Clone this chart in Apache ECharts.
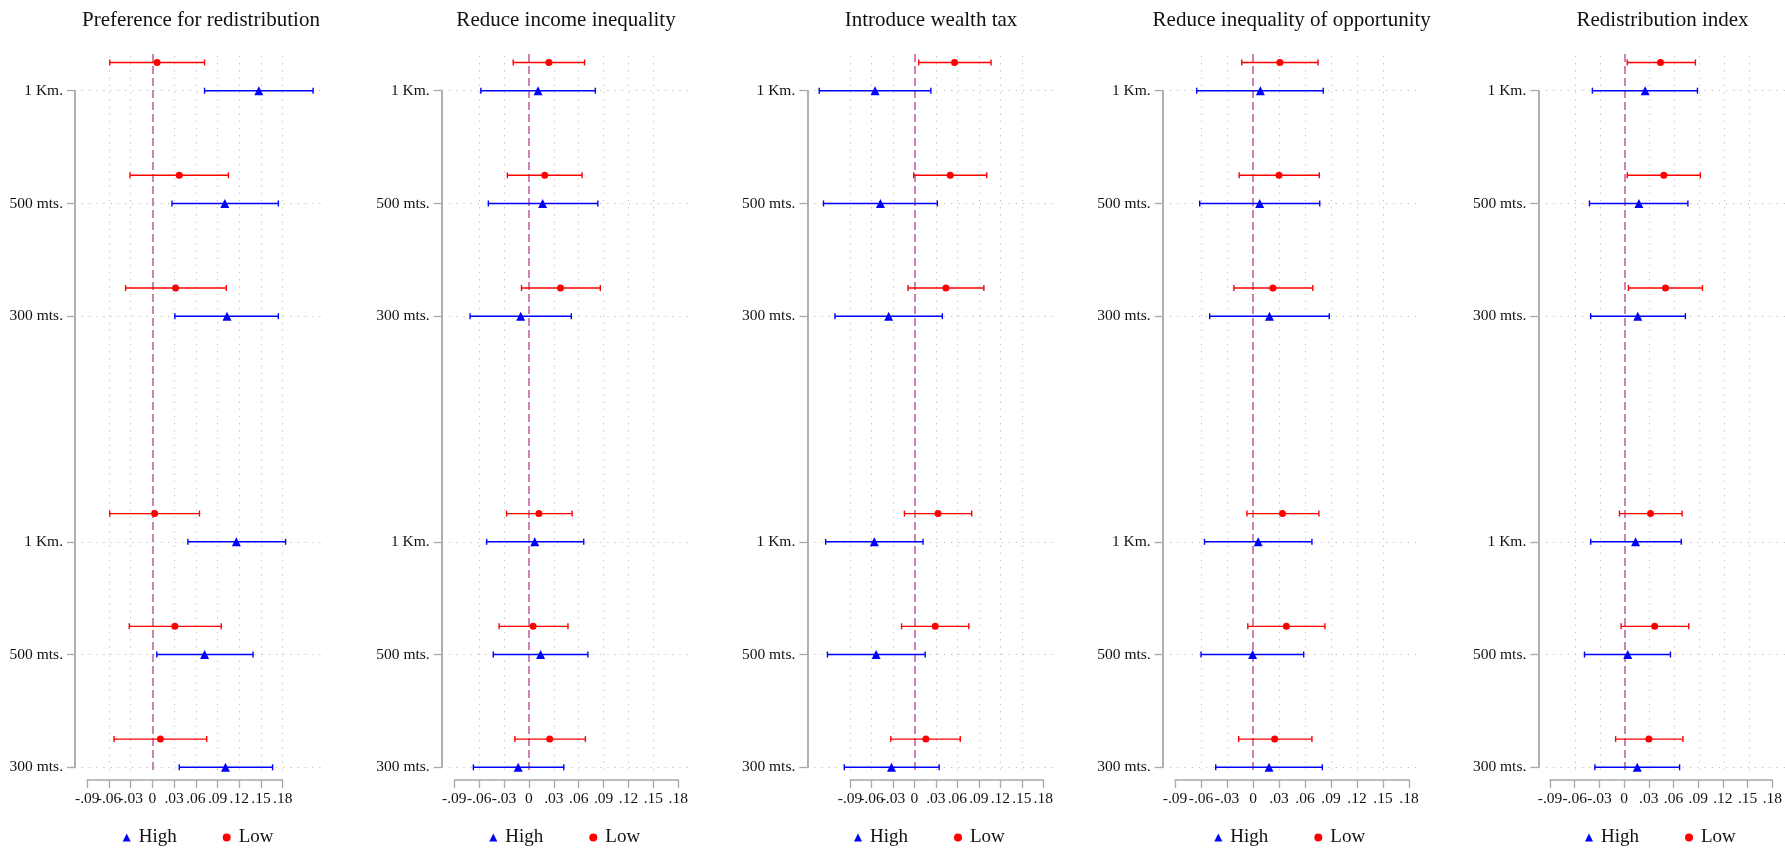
<!DOCTYPE html>
<html>
<head>
<meta charset="utf-8">
<script src="https://cdn.jsdelivr.net/npm/echarts@6/dist/echarts.min.js"></script>
<style>
  html, body { margin: 0; padding: 0; background: #fff; }
  #chart { width: 1785px; height: 849px; }
</style>
</head>
<body>
<div id="chart"></div>
<script>
// ---------------- DATA ----------------
const titles = ['Preference for redistribution', 'Reduce income inequality', 'Introduce wealth tax',
                'Reduce inequality of opportunity', 'Redistribution index'];
// rows listed from top to bottom
const rowLabels = ['1 Km.', '500 mts.', '300 mts.', '1 Km.', '500 mts.', '300 mts.'];
const rowPos = [7, 6, 5, 3, 2, 1];
const xTicks = [-0.09, -0.06, -0.03, 0, 0.03, 0.06, 0.09, 0.12, 0.15, 0.18];
const seriesNames = ['High', 'Low'];

// Panel 1: Preference for redistribution
const prefHighEst = [0.147, 0.100, 0.103, 0.116, 0.072, 0.101];
const prefHighLo  = [0.072, 0.027, 0.031, 0.049, 0.006, 0.037];
const prefHighHi  = [0.222, 0.174, 0.174, 0.184, 0.139, 0.166];
const prefLowEst  = [0.0065, 0.037, 0.032, 0.003, 0.031, 0.011];
const prefLowLo   = [-0.059, -0.031, -0.037, -0.059, -0.032, -0.053];
const prefLowHi   = [0.072, 0.105, 0.102, 0.065, 0.095, 0.075];

// Panel 2: Reduce income inequality
const incHighEst = [0.011, 0.0165, -0.010, 0.007, 0.014, -0.013];
const incHighLo  = [-0.058, -0.049, -0.071, -0.051, -0.043, -0.067];
const incHighHi  = [0.080, 0.083, 0.051, 0.066, 0.071, 0.042];
const incLowEst  = [0.024, 0.019, 0.038, 0.012, 0.005, 0.025];
const incLowLo   = [-0.019, -0.026, -0.009, -0.027, -0.036, -0.017];
const incLowHi   = [0.067, 0.064, 0.086, 0.052, 0.047, 0.068];

// Panel 3: Introduce wealth tax
const taxHighEst = [-0.055, -0.0475, -0.036, -0.056, -0.0535, -0.032];
const taxHighLo  = [-0.133, -0.127, -0.111, -0.124, -0.1215, -0.098];
const taxHighHi  = [0.023, 0.032, 0.039, 0.012, 0.015, 0.0345];
const taxLowEst  = [0.056, 0.050, 0.044, 0.033, 0.029, 0.016];
const taxLowLo   = [0.006, -0.001, -0.009, -0.014, -0.018, -0.033];
const taxLowHi   = [0.107, 0.101, 0.097, 0.080, 0.076, 0.064];

// Panel 4: Reduce inequality of opportunity
const oppHighEst = [0.0085, 0.0077, 0.019, 0.006, -0.0004, 0.0185];
const oppHighLo  = [-0.065, -0.0615, -0.050, -0.056, -0.060, -0.043];
const oppHighHi  = [0.081, 0.077, 0.088, 0.068, 0.0585, 0.080];
const oppLowEst  = [0.031, 0.030, 0.023, 0.034, 0.0385, 0.025];
const oppLowLo   = [-0.013, -0.016, -0.022, -0.007, -0.006, -0.0165];
const oppLowHi   = [0.075, 0.0765, 0.069, 0.076, 0.083, 0.068];

// Panel 5: Redistribution index
const idxHighEst = [0.0245, 0.017, 0.0156, 0.013, 0.0036, 0.015];
const idxHighLo  = [-0.039, -0.0425, -0.041, -0.041, -0.0485, -0.036];
const idxHighHi  = [0.0875, 0.076, 0.073, 0.068, 0.055, 0.066];
const idxLowEst  = [0.043, 0.047, 0.049, 0.031, 0.036, 0.029];
const idxLowLo   = [0.003, 0.003, 0.0044, -0.0064, -0.0044, -0.011];
const idxLowHi   = [0.085, 0.091, 0.0935, 0.069, 0.077, 0.070];

const panelData = [
  {high: [prefHighEst, prefHighLo, prefHighHi], low: [prefLowEst, prefLowLo, prefLowHi]},
  {high: [incHighEst, incHighLo, incHighHi], low: [incLowEst, incLowLo, incLowHi]},
  {high: [taxHighEst, taxHighLo, taxHighHi], low: [taxLowEst, taxLowLo, taxLowHi]},
  {high: [oppHighEst, oppHighLo, oppHighHi], low: [oppLowEst, oppLowLo, oppLowHi]},
  {high: [idxHighEst, idxHighLo, idxHighHi], low: [idxLowEst, idxLowLo, idxLowHi]}
];

// ---------------- LAYOUT (pixels) ----------------
const layout = [
  {yAxisX: 75,     axL: 87.3,  axR: 282.7,  plotL: 81.7,  plotR: 323.3, titleX: 201,    legendX: 122.7},
  {yAxisX: 441.7,  axL: 454.3, axR: 678.3,  plotL: 449,   plotR: 690,   titleX: 566,    legendX: 489.3},
  {yAxisX: 807.3,  axL: 850,   axR: 1043.3, plotL: 814.3, plotR: 1055,  titleX: 931,    legendX: 854},
  {yAxisX: 1162.7, axL: 1175,  axR: 1409,   plotL: 1170,  plotR: 1418.3,titleX: 1291.7, legendX: 1214.3},
  {yAxisX: 1538.3, axL: 1550,  axR: 1774.3, plotL: 1546,  plotR: 1785,  titleX: 1662.5, legendX: 1585}
];
const plotTop = 53, plotBottom = 770;
const axTop = 90.7, axBottom = 767.3;   // pixel positions of y = 7 and y = 1
const xAxisLineY = 780;
const pxPerRow = (axBottom - axTop) / 6;
const yMinA = 1 - (plotBottom - axBottom) / pxPerRow;
const yMaxA = 7 + (axTop - plotTop) / pxPerRow;
const lowOffset = 0.25;

const FONT = '"Liberation Serif", "Times New Roman", serif';
const BLUE = '#0000ff', RED = '#ff0000';
const AXIS_GRAY = '#a8a8a8';

function fmtTick(v) {
  if (Math.abs(v) < 1e-9) return '0';
  const s = Math.abs(v).toFixed(2).replace(/^0/, '');
  return (v < 0 ? '-' : '') + s;
}

function errRender(params, api) {
  const y = api.value(2);
  const a = api.coord([api.value(0), y]);
  const b = api.coord([api.value(1), y]);
  const c = 3;
  const style = {stroke: api.visual('color'), lineWidth: 1.4};
  return {
    type: 'group',
    children: [
      {type: 'line', shape: {x1: a[0], y1: a[1], x2: b[0], y2: b[1]}, style: style},
      {type: 'line', shape: {x1: a[0], y1: a[1] - c, x2: a[0], y2: a[1] + c}, style: style},
      {type: 'line', shape: {x1: b[0], y1: b[1] - c, x2: b[0], y2: b[1] + c}, style: style}
    ]
  };
}

const grids = [], xAxes = [], yAxes = [], series = [], titleArr = [], legends = [];
// tick labels split over two overlaid axes so that crowded labels are all kept
const labelSetA = xTicks.filter(function (t, k) { return k % 2 === 0; });
const labelSetB = xTicks.filter(function (t, k) { return k % 2 === 1; });

layout.forEach(function (L, i) {
  const ppu = (L.axR - L.axL) / 0.27;
  const xMinA = -0.09 - (L.axL - L.plotL) / ppu;
  const xMaxA = 0.18 + (L.plotR - L.axR) / ppu;
  const rangeA = xMaxA - xMinA;

  // grid A : plot region (data)
  const gA = grids.length;
  grids.push({left: L.plotL, top: plotTop, width: L.plotR - L.plotL, height: plotBottom - plotTop, containLabel: false});
  const xA = xAxes.length, yA = yAxes.length;
  xAxes.push({gridIndex: gA, type: 'value', min: xMinA, max: xMaxA, show: false});
  yAxes.push({gridIndex: gA, type: 'value', min: yMinA, max: yMaxA, show: false});

  // grid B : axes
  const gB = grids.length;
  grids.push({left: L.axL, top: axTop, width: L.axR - L.axL, height: axBottom - axTop, containLabel: false});
  const labelBase = {formatter: fmtTick, fontFamily: FONT, fontSize: 15.5, color: '#111', margin: 11, hideOverlap: false};
  xAxes.push({
    gridIndex: gB, type: 'value', min: -0.09, max: 0.18, interval: 0.03,
    position: 'bottom', offset: xAxisLineY - axBottom,
    axisLine: {show: true, onZero: false, lineStyle: {color: AXIS_GRAY, width: 1.6}},
    axisTick: {show: true, length: 8, lineStyle: {color: AXIS_GRAY, width: 1.3}, customValues: xTicks},
    axisLabel: Object.assign({customValues: labelSetA}, labelBase),
    splitLine: {show: false}
  });
  xAxes.push({
    gridIndex: gB, type: 'value', min: -0.09, max: 0.18, interval: 0.03,
    position: 'bottom', offset: xAxisLineY - axBottom,
    axisLine: {show: false, onZero: false},
    axisTick: {show: false},
    axisLabel: Object.assign({customValues: labelSetB}, labelBase),
    splitLine: {show: false}
  });
  yAxes.push({
    gridIndex: gB, type: 'value', min: 1, max: 7, interval: 1,
    position: 'left', offset: L.axL - L.yAxisX,
    axisLine: {show: true, onZero: false, lineStyle: {color: AXIS_GRAY, width: 1.8}},
    axisTick: {show: true, length: 8, lineStyle: {color: AXIS_GRAY, width: 1.3}, customValues: rowPos},
    axisLabel: {
      customValues: rowPos, hideOverlap: false,
      formatter: function (v) { const k = rowPos.indexOf(Math.round(v)); return k >= 0 ? rowLabels[k] : ''; },
      fontFamily: FONT, fontSize: 15.5, color: '#111', margin: 12
    },
    splitLine: {show: false}
  });

  // gridlines (vertical dotted, horizontal dotted, zero dashed)
  const vLines = xTicks.filter(function (t) {
    return Math.abs(t) > 1e-9 && (t - xMinA) > 0.07 * rangeA && (xMaxA - t) > 0.07 * rangeA;
  }).map(function (t) { return {xAxis: t}; });
  const hLines = rowPos.map(function (p) { return {yAxis: p}; });
  series.push({
    name: 'grid' + i, type: 'scatter', xAxisIndex: xA, yAxisIndex: yA, data: [], z: 1, silent: true,
    markLine: {
      z: 1, silent: true, symbol: 'none', label: {show: false}, animation: false,
      lineStyle: {color: '#bdbdbd', width: 1, type: [1.2, 6]},
      data: vLines.concat(hLines).concat([
        {xAxis: 0, lineStyle: {color: '#c777ad', width: 1.8, type: [8, 4]}}
      ])
    }
  });

  const D = panelData[i];
  [['High', D.high, 0, BLUE, 'triangle', 9], ['Low', D.low, lowOffset, RED, 'circle', 7]].forEach(function (s) {
    const name = s[0], arr = s[1], off = s[2], col = s[3], sym = s[4], size = s[5];
    series.push({
      name: name, type: 'custom', xAxisIndex: xA, yAxisIndex: yA, z: 3,
      renderItem: errRender, itemStyle: {color: col},
      encode: {x: [0, 1], y: 2},
      data: rowPos.map(function (p, k) { return [arr[1][k], arr[2][k], p + off]; })
    });
    series.push({
      name: name, type: 'scatter', xAxisIndex: xA, yAxisIndex: yA, z: 4,
      symbol: sym, symbolSize: size, itemStyle: {color: col, opacity: 1},
      data: rowPos.map(function (p, k) { return [arr[0][k], p + off]; })
    });
  });

  titleArr.push({
    text: titles[i], left: L.titleX, top: 10, textAlign: 'center', padding: 0,
    textStyle: {fontFamily: FONT, fontSize: 21, fontWeight: 'normal', color: '#111'}
  });
  legends.push({
    left: L.legendX, top: 828, orient: 'horizontal', itemWidth: 8, itemHeight: 8, itemGap: 46, padding: 0,
    data: [{name: seriesNames[0], icon: 'triangle'}, {name: seriesNames[1], icon: 'circle'}],
    textStyle: {fontFamily: FONT, fontSize: 19, color: '#111', padding: [0, 0, 0, 3]},
    selectedMode: false
  });
});

const chart = echarts.init(document.getElementById('chart'), null, {renderer: 'canvas'});
chart.setOption({
  backgroundColor: '#ffffff',
  animation: false,
  title: titleArr,
  legend: legends,
  grid: grids,
  xAxis: xAxes,
  yAxis: yAxes,
  series: series
});
</script>
</body>
</html>
